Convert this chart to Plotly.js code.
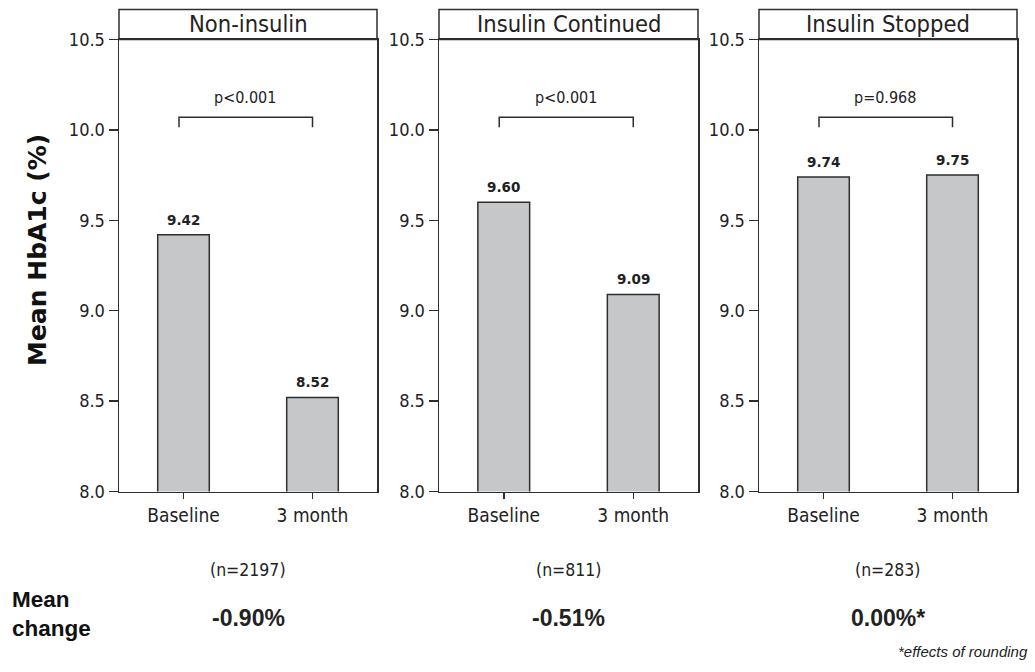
<!DOCTYPE html>
<html>
<head>
<meta charset="utf-8">
<script src="https://cdn.plot.ly/plotly-3.0.1.min.js"></script>
<style>html,body{margin:0;padding:0;background:#fff;}#chart{width:1035px;height:672px;}</style>
</head>
<body>
<div id="chart"></div>
<script>
// ---- data ----
const categories = ['Baseline', '3 month'];
const panelTitles = ['Non-insulin', 'Insulin Continued', 'Insulin Stopped'];
const baselineValues = [9.42, 9.60, 9.74];
const month3Values = [8.52, 9.09, 9.75];
const pValues = ['p<0.001', 'p<0.001', 'p=0.968'];
const nCounts = ['(n=2197)', '(n=811)', '(n=283)'];
const meanChanges = ['-0.90%', '-0.51%', '0.00%*'];
const yTicks = [8.0, 8.5, 9.0, 9.5, 10.0, 10.5];

// ---- style ----
const W = 1035, H = 672;
const xDomainsPx = [[119, 377], [439, 698], [759, 1017]];
const yDomainPx = [39.5, 491.5];
const lineColor = '#2e2e2e';
const barFill = '#c6c7c9';
const tahomaLike = '"DejaVu Sans Condensed", "DejaVu Sans", sans-serif';
const verdanaBold = '"DejaVu Sans", sans-serif';
const arialLike = '"Liberation Sans", Arial, sans-serif';

const traces = [];
const layout = {
  width: W, height: H,
  margin: {l: 0, r: 0, t: 0, b: 0},
  paper_bgcolor: '#fff', plot_bgcolor: '#fff',
  showlegend: false,
  shapes: [], annotations: []
};

const yDom = [1 - yDomainPx[1] / H, 1 - yDomainPx[0] / H];
const titleBoxH = 30 / (yDomainPx[1] - yDomainPx[0]);

for (let i = 0; i < 3; i++) {
  const s = i === 0 ? '' : String(i + 1);
  const xa = 'x' + s, ya = 'y' + s;
  const vals = [baselineValues[i], month3Values[i]];
  traces.push({
    type: 'bar', x: categories, y: vals, xaxis: xa, yaxis: ya,
    width: 0.4,
    marker: {color: barFill, line: {color: lineColor, width: 1.5}},
    hoverinfo: 'skip'
  });
  // bar value labels
  vals.forEach((v, k) => {
    layout.annotations.push({
      xref: xa, yref: ya, x: k, y: v, yanchor: 'bottom', xanchor: 'center', yshift: 5,
      text: '<b>' + v.toFixed(2) + '</b>', showarrow: false,
      font: {family: verdanaBold, size: 13.5, color: '#222'}
    });
  });
  const dx = xDomainsPx[i].map(p => p / W);
  layout['xaxis' + s] = {
    domain: dx, anchor: ya, type: 'category', range: [-0.5, 1.5],
    showline: true, mirror: true, linecolor: lineColor, linewidth: 1.5,
    ticks: 'outside', ticklen: 6, tickwidth: 1.5, tickcolor: lineColor,
    showgrid: false, zeroline: false, fixedrange: true,
    tickfont: {family: tahomaLike, size: 19, color: '#222'}
  };
  layout['yaxis' + s] = {
    domain: yDom, anchor: xa, range: [8.0, 10.5],
    tickvals: yTicks, ticktext: yTicks.map(t => t.toFixed(1)),
    showline: true, mirror: true, linecolor: lineColor, linewidth: 1.5,
    ticks: 'outside', ticklen: 9, tickwidth: 1.5, tickcolor: lineColor,
    showgrid: false, zeroline: false, fixedrange: true,
    tickfont: {family: tahomaLike, size: 18, color: '#222'}
  };
  // title box
  layout.shapes.push({
    type: 'rect', xref: xa + ' domain', yref: ya + ' domain',
    x0: 0, x1: 1, y0: 1, y1: 1 + titleBoxH,
    line: {color: lineColor, width: 1.5}, fillcolor: 'rgba(0,0,0,0)'
  });
  layout.annotations.push({
    xref: xa + ' domain', yref: ya + ' domain', x: 0.5, y: 1 + titleBoxH / 2,
    yanchor: 'middle', xanchor: 'center', showarrow: false,
    text: panelTitles[i], font: {family: tahomaLike, size: 23.5, color: '#222'}
  });
  // significance bracket
  layout.shapes.push({
    type: 'path', xref: xa, yref: ya,
    path: 'M -0.035,10.015 L -0.035,10.07 L 1.0,10.07 L 1.0,10.015',
    line: {color: lineColor, width: 1.5}
  });
  layout.annotations.push({
    xref: xa, yref: ya, x: 0.48, y: 10.18, yanchor: 'middle', xanchor: 'center', showarrow: false,
    text: pValues[i], font: {family: tahomaLike, size: 16, color: '#222'}
  });
  // bottom texts
  const cx = (dx[0] + dx[1]) / 2;
  layout.annotations.push({
    xref: 'paper', yref: 'paper', x: cx, y: 1 - 570 / H, yanchor: 'middle', xanchor: 'center',
    showarrow: false, text: nCounts[i],
    font: {family: tahomaLike, size: 17.5, color: '#222'}
  });
  layout.annotations.push({
    xref: 'paper', yref: 'paper', x: cx, y: 1 - 618 / H, yanchor: 'middle', xanchor: 'center',
    showarrow: false, text: '<b>' + meanChanges[i] + '</b>',
    font: {family: arialLike, size: 23, color: '#222'}
  });
}

// y axis title
layout.annotations.push({
  xref: 'paper', yref: 'paper', x: 37 / W, y: 1 - 250 / H,
  xanchor: 'center', yanchor: 'middle', textangle: -90, showarrow: false,
  text: '<b>Mean HbA1c (%)</b>', font: {family: verdanaBold, size: 25, color: '#111'}
});
// Mean change label
layout.annotations.push({
  xref: 'paper', yref: 'paper', x: 10 / W, y: 1 - 614 / H,
  xanchor: 'left', yanchor: 'middle', align: 'left', showarrow: false,
  text: '<b>Mean<br>change</b>', font: {family: arialLike, size: 22.5, color: '#111'}
});
// footnote
layout.annotations.push({
  xref: 'paper', yref: 'paper', x: 1030 / W, y: 1 - 651 / H,
  xanchor: 'right', yanchor: 'middle', showarrow: false,
  text: '<i>*effects of rounding</i>', font: {family: arialLike, size: 15, color: '#222'}
});

Plotly.newPlot('chart', traces, layout, {displayModeBar: false, staticPlot: true});
</script>
</body>
</html>
